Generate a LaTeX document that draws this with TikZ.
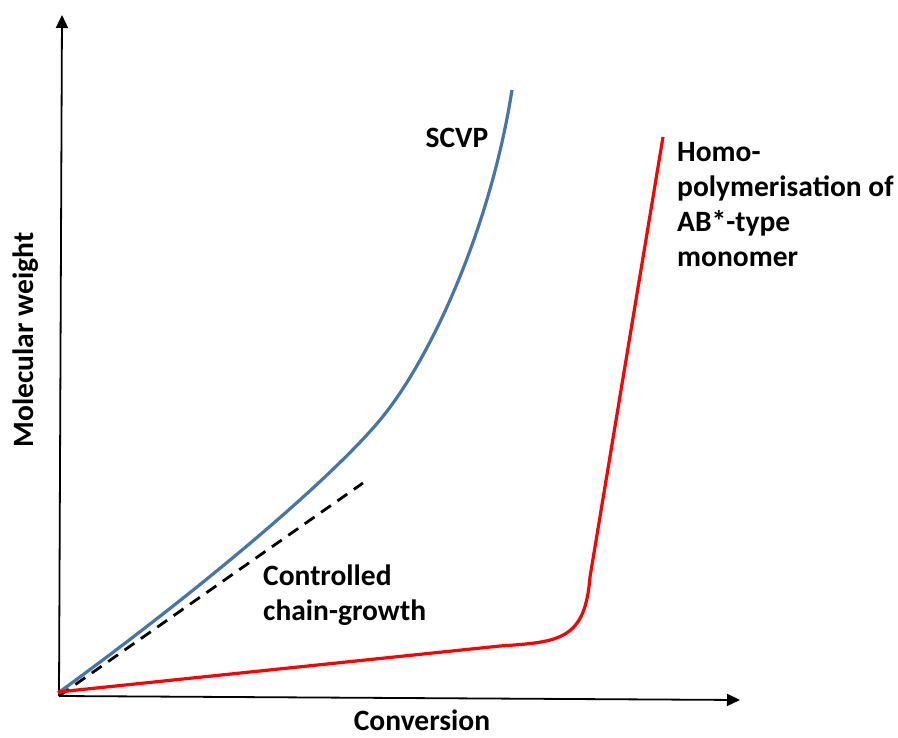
\documentclass[tikz,border=0pt]{standalone}
\usepackage{fontspec}
\setmainfont{Carlito}
\usetikzlibrary{arrows.meta}

\definecolor{scvpblue}{RGB}{70,118,168}
\tikzset{
 axis/.style={black, line width=1.8pt, -{Triangle[length=13pt,width=12pt]}},
 curvelabel/.style={font=\fontsize{29.5}{35}\selectfont\bfseries, align=left, inner sep=0pt},
}

\begin{document}
\begin{tikzpicture}[x=1pt, y=-1pt]
\useasboundingbox (0,0) rectangle (898,738);
% axes
\coordinate (o) at (59,696);
\coordinate (xtip) at (740,700);
\coordinate (ytip) at (62,15);
\draw[axis] (o)--(xtip);
\draw[axis] (o)--(ytip);
\node[curvelabel, anchor=base] (xlab) at (422,730) {Conversion};
\node[curvelabel, rotate=90, anchor=base] (ylab) at (34,340) {Molecular weight};
% controlled chain-growth (dashed)
\coordinate (dend) at (363,483);
\draw[black, line width=2.8pt, dash pattern=on 12pt off 8pt] (o)--(dend);
% SCVP
\draw[scvpblue, line width=3.2pt] (58,693) .. controls (200,590) and (330,480) .. (380,420)
 .. controls (430,360) and (490,230) .. (512,90);
% AB* homopolymerisation
\draw[red, line width=3.2pt] (58,692)--(500,646) .. controls (560,642) and (585,640) .. (590,577)--(663,137);
% labels
\node[curvelabel, anchor=base] (scvp) at (457,148) {SCVP};
\node[curvelabel, anchor=base west] (ccg) at (263,620) {Controlled\\chain-growth};
\node[curvelabel, anchor=base west] (homo) at (677,267) {Homo-\\polymerisation of\\AB*-type\\monomer};
\end{tikzpicture}
\end{document}
